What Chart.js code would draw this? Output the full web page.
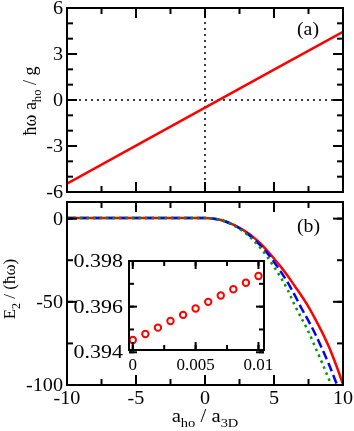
<!DOCTYPE html>
<html>
<head>
<meta charset="utf-8">
<script src="https://cdn.jsdelivr.net/npm/chart.js@4.4.1/dist/chart.umd.min.js"></script>
<style>
    html, body { margin: 0; padding: 0; background: #fff; }
    #wrap { position: relative; width: 354px; height: 431px; }
    #wrap canvas { position: absolute; left: 0; top: 0; }
</style>
</head>
<body>
<div id="wrap">
    <canvas id="panelA" width="354" height="431"></canvas>
    <canvas id="panelB" width="354" height="431"></canvas>
    <canvas id="inset" width="354" height="431"></canvas>
</div>
<script>
// panel (a): hbar omega a_ho / g against a_ho / a_3D
const aX = [-10, -5, 0, 5, 10];
const aY = [-5.45, -2.975, -0.5, 1.975, 4.45];
const aXTicks = [-10, -5, 0, 5, 10];
const aYTicks = [-6, -3, 0, 3, 6];

// panel (b): E_2 / (hbar omega)
const bX = [-10, -8, -6, -4, -2, -1, 0, 0.5, 1, 1.5, 2, 2.5, 3, 3.5, 4, 4.5, 5, 5.5, 6, 6.5, 7, 7.5, 8, 8.5, 9, 9.5, 10];
const bRed = [0.45, 0.45, 0.45, 0.45, 0.44, 0.42, 0.39, 0.15, -0.5, -1.7, -3.5, -5.6, -8.1, -11.1, -14.8, -19.2, -24, -29, -34.5, -40.5, -46.5, -53, -60.5, -68.5, -77.5, -88, -99.5];
const bBlue = [0.45, 0.45, 0.45, 0.45, 0.44, 0.42, 0.39, 0.15, -0.5, -1.7, -3.6, -5.8, -8.6, -12, -16, -20.6, -26, -32, -38.5, -46, -54, -61.5, -69.5, -78.5, -88, -98.5, -109];
const bGreen = [0.45, 0.45, 0.45, 0.45, 0.44, 0.42, 0.39, 0.15, -0.5, -1.75, -3.7, -6.1, -9.2, -13, -17.5, -22.8, -29, -35.5, -43, -52, -60, -68, -77.5, -87, -97, -108, -119];
const bXTicks = [-10, -5, 0, 5, 10];
const bYTicks = [-100, -50, 0];

// inset
const insetX = [0, 0.001, 0.002, 0.003, 0.004, 0.005, 0.006, 0.007, 0.008, 0.009, 0.01];
const insetY = [0.39454, 0.39480, 0.39508, 0.39537, 0.39564, 0.39592, 0.39621, 0.39649, 0.39676, 0.39705, 0.39734];
const insetXTicks = [0, 0.005, 0.01];
const insetXLabels = ['0', '0.005', '0.01'];
const insetYTicks = [0.394, 0.396, 0.398];
const insetYLabels = ['0.394', '0.396', '0.398'];

const FONT = '"Liberation Serif", "Times New Roman", serif';

function pts(xs, ys) {
    return xs.map(function (x, i) { return { x: x, y: ys[i] }; });
}

function text(ctx, s, x, y, align, size, sx) {
    ctx.save();
    ctx.translate(x, y);
    ctx.scale(sx || 1, 1);
    ctx.font = size + 'px ' + FONT;
    ctx.textAlign = align;
    ctx.textBaseline = 'alphabetic';
    ctx.fillStyle = '#000';
    ctx.fillText(s, 0, 0);
    ctx.restore();
}

// text with subscripts, parts = [[str, isSub], ...], centred on x
function rich(ctx, parts, x, y, size, rot, sx) {
    ctx.save();
    ctx.translate(x, y);
    if (rot) ctx.rotate(-Math.PI / 2);
    ctx.scale(sx || 1, 1);
    ctx.textAlign = 'left';
    ctx.textBaseline = 'alphabetic';
    ctx.fillStyle = '#000';
    var w = 0;
    parts.forEach(function (p) {
        ctx.font = (p[1] ? size * 0.7 : size) + 'px ' + FONT;
        w += ctx.measureText(p[0]).width;
    });
    var cx = -w / 2;
    parts.forEach(function (p) {
        ctx.font = (p[1] ? size * 0.7 : size) + 'px ' + FONT;
        ctx.fillText(p[0], cx, p[1] ? size * 0.3 : 0);
        cx += ctx.measureText(p[0]).width;
    });
    ctx.restore();
}

// frame, inward ticks on all sides, tick labels and titles
const framePlugin = {
    id: 'frame',
    beforeDraw: function (chart, args, o) {
        if (!o.fill) return;
        const a = chart.chartArea, ctx = chart.ctx;
        ctx.save();
        ctx.fillStyle = o.fill;
        ctx.fillRect(a.left, a.top, a.right - a.left, a.bottom - a.top);
        ctx.restore();
    },
    afterDraw: function (chart, args, o) {
        const ctx = chart.ctx, a = chart.chartArea;
        const xs = chart.scales.x, ys = chart.scales.y;
        ctx.save();
        ctx.strokeStyle = '#000';
        ctx.lineWidth = 2;
        ctx.lineCap = 'butt';

        function seg(x1, y1, x2, y2) {
            ctx.beginPath();
            ctx.moveTo(x1, y1);
            ctx.lineTo(x2, y2);
            ctx.stroke();
        }
        function steps(from, to, step) {
            var out = [];
            for (var i = 0; ; i++) {
                var v = from + i * step;
                if (v > to + step * 1e-6) break;
                out.push(v);
            }
            return out;
        }
        function xTick(v, len) {
            var px = xs.getPixelForValue(v);
            seg(px, a.bottom, px, a.bottom - len);
            seg(px, a.top, px, a.top + len);
        }
        function yTick(v, len) {
            var py = ys.getPixelForValue(v);
            seg(a.left, py, a.left + len, py);
            seg(a.right, py, a.right - len, py);
        }

        steps(o.xMinor[0], o.xMinor[1], o.xMinor[2]).forEach(function (v) { xTick(v, o.minorLen); });
        steps(o.yMinor[0], o.yMinor[1], o.yMinor[2]).forEach(function (v) { yTick(v, o.minorLen); });
        o.xTicks.forEach(function (v) { xTick(v, o.majorLen); });
        o.yTicks.forEach(function (v) { yTick(v, o.majorLen); });

        ctx.strokeRect(a.left, a.top, a.right - a.left, a.bottom - a.top);

        if (o.xLabels) {
            o.xTicks.forEach(function (v, i) {
                text(ctx, o.xLabels[i], xs.getPixelForValue(v), o.xLabelY, 'center', o.xLabelSize, o.xLabelSx);
            });
        }
        if (o.yLabels) {
            o.yTicks.forEach(function (v, i) {
                text(ctx, o.yLabels[i], o.yLabelX, ys.getPixelForValue(v) + o.yLabelSize * 0.34, 'right', o.yLabelSize, o.yLabelSx);
            });
        }
        (o.titles || []).forEach(function (t) {
            rich(ctx, t.parts, t.x, t.y, t.size, t.rot, t.sx);
        });
        (o.notes || []).forEach(function (t) {
            text(ctx, t.s, t.x, t.y, 'left', t.size, t.sx);
        });
        ctx.restore();
    }
};

function baseOptions(pad, xr, yr, frame) {
    return {
        responsive: false,
        animation: false,
        events: [],
        layout: { padding: pad },
        scales: {
            x: { type: 'linear', min: xr[0], max: xr[1], display: false },
            y: { type: 'linear', min: yr[0], max: yr[1], display: false }
        },
        plugins: {
            legend: { display: false },
            tooltip: { enabled: false },
            frame: frame
        }
    };
}

// panel (a)
new Chart(document.getElementById('panelA'), {
    type: 'scatter',
    data: {
        datasets: [{
            data: pts(aX, aY),
            showLine: true,
            borderColor: '#ff0000',
            borderWidth: 2.5,
            pointRadius: 0,
            order: 1
        }, {
            data: [{ x: -10, y: 0 }, { x: 10, y: 0 }],
            showLine: true,
            borderColor: '#000',
            borderWidth: 1.5,
            borderDash: [2, 4],
            pointRadius: 0,
            order: 2
        }, {
            data: [{ x: 0, y: -6 }, { x: 0, y: 6 }],
            showLine: true,
            borderColor: '#000',
            borderWidth: 1.5,
            borderDash: [2, 4],
            pointRadius: 0,
            order: 3
        }]
    },
    options: baseOptions({ left: 67, right: 11, top: 8, bottom: 239 }, [-10, 10], [-6, 6], {
        xTicks: aXTicks, yTicks: aYTicks,
        xMinor: [-10, 10, 2.5], yMinor: [-6, 6, 1],
        majorLen: 10, minorLen: 6,
        yLabels: aYTicks.map(String), yLabelX: 63, yLabelSize: 18, yLabelSx: 1.12,
        titles: [{ parts: [['ħω a'], ['ho', 1], [' / g']], x: 36, y: 101, size: 18, rot: true }],
        notes: [{ s: '(a)', x: 297, y: 35, size: 18, sx: 1.1 }]
    }),
    plugins: [framePlugin]
});

// panel (b)
new Chart(document.getElementById('panelB'), {
    type: 'scatter',
    data: {
        datasets: [{
            data: pts(bX, bRed),
            showLine: true,
            borderColor: '#ff0000',
            borderWidth: 2.5,
            pointRadius: 0,
            cubicInterpolationMode: 'monotone',
            order: 3
        }, {
            data: pts(bX, bBlue),
            showLine: true,
            borderColor: '#0000ff',
            borderWidth: 2.5,
            borderDash: [9, 4],
            pointRadius: 0,
            cubicInterpolationMode: 'monotone',
            order: 2
        }, {
            data: pts(bX, bGreen),
            showLine: true,
            borderColor: '#009a00',
            borderWidth: 2.5,
            borderDash: [2.5, 4],
            pointRadius: 0,
            cubicInterpolationMode: 'monotone',
            order: 1
        }]
    },
    options: baseOptions({ left: 67, right: 11, top: 202, bottom: 46 }, [-10, 10], [-100, 10], {
        xTicks: bXTicks, yTicks: bYTicks,
        xMinor: [-10, 10, 2.5], yMinor: [-100, 0, 25],
        majorLen: 10, minorLen: 6,
        xLabels: bXTicks.map(String), xLabelY: 404, xLabelSize: 18, xLabelSx: 1.12,
        yLabels: bYTicks.map(String), yLabelX: 63, yLabelSize: 18, yLabelSx: 1.12,
        titles: [
            { parts: [['E'], ['2', 1], [' / (ħω)']], x: 15, y: 289, size: 17, rot: true },
            { parts: [['a'], ['ho', 1], [' / a'], ['3D', 1]], x: 205, y: 422, size: 18, sx: 1.15 }
        ],
        notes: [{ s: '(b)', x: 297, y: 232, size: 18, sx: 1.1 }]
    }),
    plugins: [framePlugin]
});

// inset of panel (b)
new Chart(document.getElementById('inset'), {
    type: 'scatter',
    data: {
        datasets: [{
            data: pts(insetX, insetY),
            pointStyle: 'circle',
            pointRadius: 3.2,
            pointBorderWidth: 2,
            pointBorderColor: '#ff0000',
            pointBackgroundColor: 'rgba(0,0,0,0)'
        }]
    },
    options: baseOptions({ left: 129, right: 90, top: 261, bottom: 81 }, [-0.0003, 0.01044], [0.3941, 0.3980], {
        fill: '#ffffff',
        xTicks: insetXTicks, yTicks: insetYTicks,
        xMinor: [0, 0.01, 0.0025], yMinor: [0.394, 0.398, 0.001],
        majorLen: 8, minorLen: 5,
        xLabels: insetXLabels, xLabelY: 370, xLabelSize: 17, xLabelSx: 1,
        yLabels: insetYLabels, yLabelX: 123, yLabelSize: 18, yLabelSx: 1.22
    }),
    plugins: [framePlugin]
});
</script>
</body>
</html>
